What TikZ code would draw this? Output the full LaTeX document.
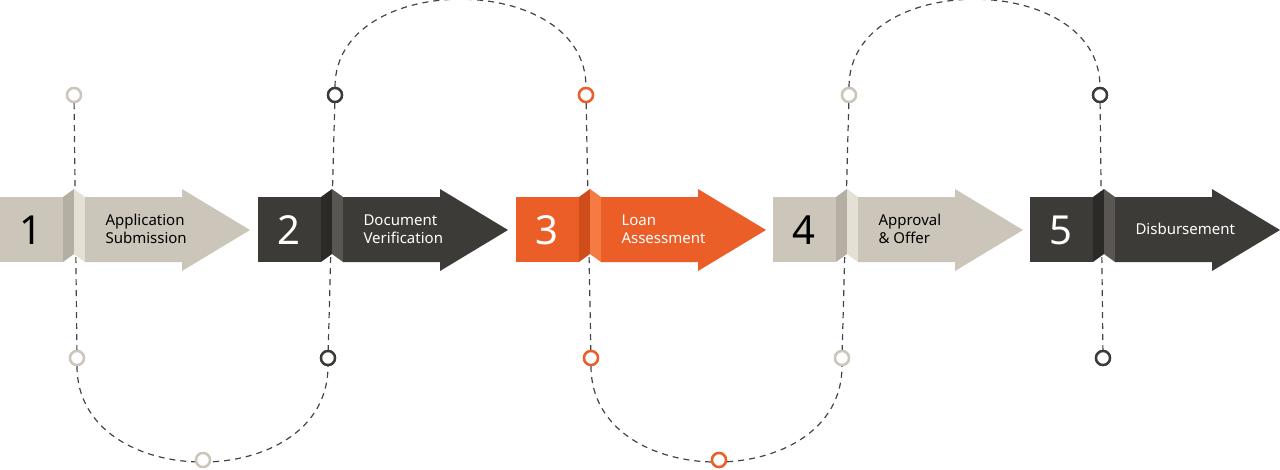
\documentclass[tikz,border=0pt]{standalone}
\usepackage{fontspec}
\setmainfont{Noto Sans}
\definecolor{bg}{HTML}{CCC6BA}\definecolor{bgd}{HTML}{B5AFA3}\definecolor{bgl}{HTML}{E4E0D6}
\definecolor{dk}{HTML}{3D3B37}\definecolor{dkd}{HTML}{2C2A27}\definecolor{dkl}{HTML}{5A5752}
\definecolor{or}{HTML}{EB5E28}\definecolor{ord}{HTML}{CF4C1B}\definecolor{orl}{HTML}{F57A44}
\definecolor{ln}{HTML}{444444}
\tikzset{dash line/.style={draw=ln,line width=1.2pt,dash pattern=on 6pt off 5pt},
  dot/.style={circle,draw=#1,line width=2.4pt,fill=white,minimum size=14pt,inner sep=0pt},
  num/.style={font=\fontsize{40}{40}\selectfont\addfontfeature{}, text=#1},
  lab/.style={font=\fontsize{15}{18}\selectfont, text=#1, align=left, anchor=west}}
\newcommand{\unit}[8]{% offset, main, darkfold, lightfold, numcolor, number, label, name
  \begin{scope}[xshift=#1pt]
  \fill[#2] (0,197) rectangle (63,262);
  \fill[#3] (63,197) -- (74,189) -- (74,254) -- (63,262) -- cycle;
  \fill[#4] (74,189) -- (85,197) -- (85,262) -- (74,254) -- cycle;
  \fill[#2] (85,197) -- (182,197) -- (182,189) -- (250,230) -- (182,271) -- (182,262) -- (85,262) -- cycle;
  \node[num=#5] (n#8) at (31,230) {#6};
  \node[lab=#5] (l#8) at (102,229) {#7};
  \end{scope}}
\begin{document}
\begin{tikzpicture}[x=1pt,y=-1pt]
\useasboundingbox (0,0) rectangle (1280,469);
% dots
\node[dot=bg] (t1) at (74,95) {};
\node[dot=dk] (t2) at (335,95) {};
\node[dot=or] (t3) at (586,95) {};
\node[dot=bg] (t4) at (849,95) {};
\node[dot=dk] (t5) at (1100,95) {};
\node[dot=bg] (b1) at (77,358) {};
\node[dot=dk] (b2) at (328,358) {};
\node[dot=or] (b3) at (591,358) {};
\node[dot=bg] (b4) at (842,358) {};
\node[dot=dk] (b5) at (1103,358) {};
\node[dot=bg] (m1) at (203,460) {};
\node[dot=or] (m2) at (719,460) {};
% dashed paths
\foreach \i in {1,...,5} \draw[dash line] (t\i) -- (b\i);
\draw[dash line] (t2) .. controls (335,-30) and (586,-30) .. (t3);
\draw[dash line] (t4) .. controls (849,-30) and (1100,-30) .. (t5);
\draw[dash line] (b1) .. controls (77,494) and (328,494) .. (b2);
\draw[dash line] (b3) .. controls (591,494) and (842,494) .. (b4);
% redraw dots on top
\foreach \n/\c/\x/\y in {t1/bg/74/95,t2/dk/335/95,t3/or/586/95,t4/bg/849/95,t5/dk/1100/95,b1/bg/77/358,b2/dk/328/358,b3/or/591/358,b4/bg/842/358,b5/dk/1103/358,m1/bg/203/460,m2/or/719/460}
  \node[dot=\c] at (\x,\y) {};
% arrows
\unit{0}{bg}{bgd}{bgl}{black}{1}{Application\\Submission}{1}
\unit{258}{dk}{dkd}{dkl}{white}{2}{Document\\Verification}{2}
\unit{516}{or}{ord}{orl}{white}{3}{Loan\\Assessment}{3}
\unit{773}{bg}{bgd}{bgl}{black}{4}{Approval\\\&~Offer}{4}
\unit{1030}{dk}{dkd}{dkl}{white}{5}{Disbursement}{5}
\end{tikzpicture}
\end{document}
